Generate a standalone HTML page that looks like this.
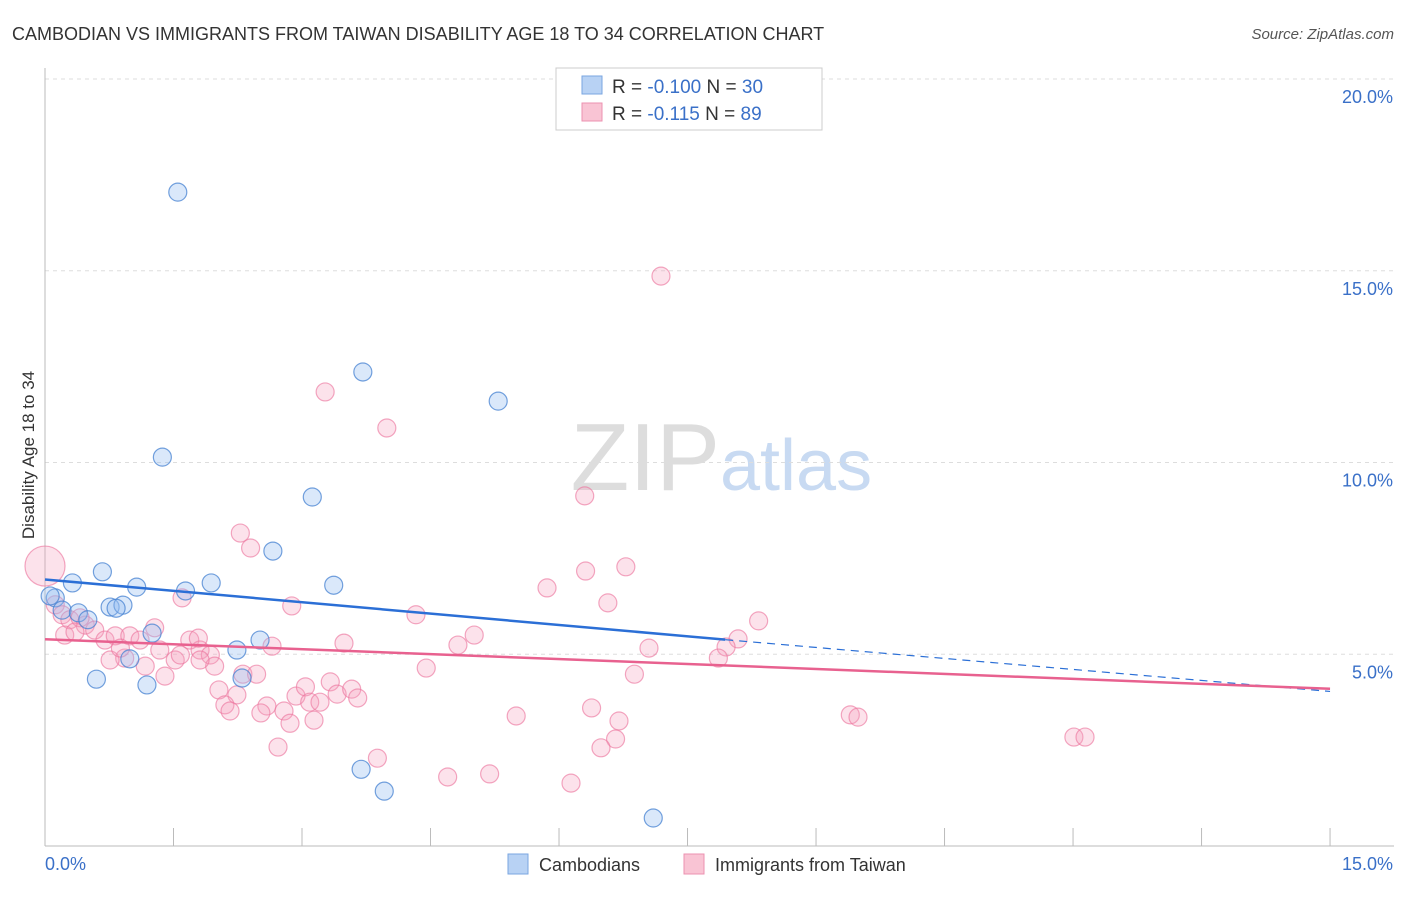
<!DOCTYPE html>
<html><head><meta charset="utf-8"><style>
body{margin:0;background:#fff;font-family:"Liberation Sans",sans-serif;}
svg text{font-family:"Liberation Sans",sans-serif;}
</style></head><body>
<svg id="c" width="1406" height="892">
<text x="12" y="40" font-size="18" fill="#333">CAMBODIAN VS IMMIGRANTS FROM TAIWAN DISABILITY AGE 18 TO 34 CORRELATION CHART</text>
<text x="1394" y="39" font-size="15" fill="#555" font-style="italic" text-anchor="end">Source: ZipAtlas.com</text>
<text x="34" y="455" font-size="17" fill="#333" transform="rotate(-90 34 455)" text-anchor="middle">Disability Age 18 to 34</text>
<text x="720" y="490" font-size="96" fill="#ddd" font-family="Liberation Serif" text-anchor="end">ZIP</text>
<text x="720" y="490" font-size="72" fill="#c8daf2">atlas</text>
<g id="grid"></g><g id="marks"></g>
<g>
<rect x="556" y="68" width="266" height="62" fill="#fff" stroke="#ccc"/>
<rect x="582" y="76" width="20" height="18" fill="#b8d2f4" stroke="#7aa6e0"/>
<rect x="582" y="103" width="20" height="18" fill="#f9c4d4" stroke="#ec92b0"/>
<text x="612" y="93" font-size="19" fill="#333">R = <tspan fill="#3a70c8">-0.100</tspan>   N = <tspan fill="#3a70c8">30</tspan></text>
<text x="612" y="120" font-size="19" fill="#333">R =  <tspan fill="#3a70c8">-0.115</tspan>   N = <tspan fill="#3a70c8">89</tspan></text>
</g>
<g>
<rect x="508" y="854" width="20" height="20" fill="#b8d2f4" stroke="#7aa6e0"/>
<text x="539" y="871" font-size="18" fill="#333">Cambodians</text>
<rect x="684" y="854" width="20" height="20" fill="#f9c4d4" stroke="#ec92b0"/>
<text x="715" y="871" font-size="18" fill="#333">Immigrants from Taiwan</text>
</g>
</svg>
<script>
const xTicks=[0,1.5,3,4.5,6,7.5,9,10.5,12,13.5,15];
const yTicks=[5,10,15,20];
const yTickLabels=["5.0%","10.0%","15.0%","20.0%"];
const blueX=[1.55,3.71,5.29,1.37,3.12,2.66,0.67,0.32,1.07,1.64,1.94,3.37,0.12,0.2,0.76,0.91,0.39,0.5,1.25,2.24,2.51,0.99,0.6,1.19,2.3,3.69,3.96,7.1,0.06,0.83];
const blueY=[17.05,12.36,11.6,10.14,9.1,7.69,7.15,6.86,6.75,6.65,6.86,6.8,6.47,6.15,6.23,6.28,6.08,5.9,5.55,5.11,5.37,4.88,4.35,4.2,4.38,2.0,1.43,0.73,6.52,6.2];
const pinkX=[0,7.19,3.27,3.99,6.3,2.28,2.4,6.78,6.31,5.86,1.6,6.57,2.88,4.33,8.33,0.12,0.2,0.29,0.47,0.58,0.41,0.23,0.35,0.7,0.82,0.99,1.11,1.28,1.34,1.52,1.69,1.81,1.93,1.79,1.98,0.93,1.17,1.4,2.65,3.49,5.01,4.82,8.09,7.95,7.05,7.86,4.45,6.88,2.31,2.47,2.03,2.24,2.1,2.16,2.59,2.52,2.79,2.93,3.04,3.33,3.41,3.58,3.65,3.09,3.21,3.14,2.86,5.5,6.38,6.7,9.4,9.49,2.72,6.66,6.49,12.01,12.14,3.88,4.7,5.19,6.14,0.76,1.58,0.88,1.81];
const pinkY=[7.3,14.86,11.84,10.9,9.13,8.16,7.77,7.28,7.17,6.73,6.47,6.34,6.26,6.03,5.87,6.29,6.03,5.9,5.76,5.63,5.95,5.5,5.58,5.37,5.48,5.48,5.37,5.69,5.11,4.85,5.37,5.11,4.98,5.42,4.69,4.9,4.69,4.43,5.21,5.29,5.5,5.24,5.4,5.19,5.16,4.9,4.64,4.48,4.48,4.48,4.07,3.94,3.68,3.52,3.65,3.47,3.52,3.91,4.15,4.28,3.96,4.09,3.86,3.75,3.75,3.28,3.2,3.39,3.6,3.26,3.42,3.36,2.58,2.79,2.56,2.84,2.84,2.29,1.8,1.88,1.64,4.85,4.98,5.16,4.85];
const blueTrend=[[0,6.95],[7.94,5.38],[15,4.03]];
const pinkTrend=[[0,5.39],[15,4.1]];
const X=v=>45+v*85.67, Y=v=>846-v*38.35;
const NS="http://www.w3.org/2000/svg";
function mk(tag,at,parent){const e=document.createElementNS(NS,tag);for(const k in at)e.setAttribute(k,at[k]);parent.appendChild(e);return e;}
const g=document.getElementById('grid'), m=document.getElementById('marks');
yTicks.forEach((t,i)=>{
 const l=mk('line',{x1:45,x2:1394,y1:Y(t),y2:Y(t),stroke:'#ddd','stroke-dasharray':'4,4'},g);
 
 const tx=mk('text',{x:1393,y:Y(t)+24,'font-size':18,fill:'#3a70c8','text-anchor':'end'},g);tx.textContent=yTickLabels[i];
 
});
const t20=mk('line',{x1:45,x2:1394,y1:Y(20),y2:Y(20),stroke:'#ddd','stroke-dasharray':'4,4'},g);
const ax=mk('line',{x1:45,x2:1394,y1:846,y2:846,stroke:'#bbb'},g);

const ay=mk('line',{x1:45,x2:45,y1:68,y2:846,stroke:'#bbb'},g);

xTicks.forEach(t=>{const l=mk('line',{x1:X(t),x2:X(t),y1:828,y2:846,stroke:'#bbb'},g);
 });
let a=mk('text',{x:45,y:870,'font-size':18,fill:'#3a70c8'},g);a.textContent='0.0%';

a=mk('text',{x:1393,y:870,'font-size':18,fill:'#3a70c8','text-anchor':'end'},g);a.textContent='15.0%';

pinkX.forEach((v,i)=>{const r=i===0?20:9;const c=mk('circle',{cx:X(v),cy:Y(pinkY[i]),r:r,fill:'rgba(246,160,188,0.3)',stroke:'rgba(236,120,160,0.65)','stroke-width':1.2},m);
 });
blueX.forEach((v,i)=>{const c=mk('circle',{cx:X(v),cy:Y(blueY[i]),r:9,fill:'rgba(150,190,240,0.35)',stroke:'rgba(70,130,210,0.75)','stroke-width':1.2},m);
 });
let l=mk('line',{x1:X(blueTrend[0][0]),y1:Y(blueTrend[0][1]),x2:X(blueTrend[1][0]),y2:Y(blueTrend[1][1]),stroke:'#2b6fd6','stroke-width':2.5},m);

l=mk('line',{x1:X(blueTrend[1][0]),y1:Y(blueTrend[1][1]),x2:X(blueTrend[2][0]),y2:Y(blueTrend[2][1]),stroke:'#2b6fd6','stroke-width':1.2,'stroke-dasharray':'8,6'},m);

l=mk('line',{x1:X(pinkTrend[0][0]),y1:Y(pinkTrend[0][1]),x2:X(pinkTrend[1][0]),y2:Y(pinkTrend[1][1]),stroke:'#e8618f','stroke-width':2.5},m);

</script>
</body></html>
